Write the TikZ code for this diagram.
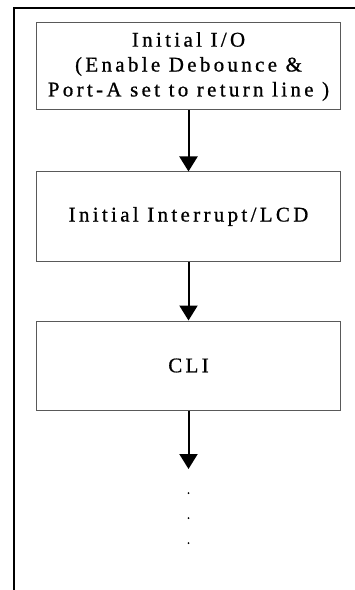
\documentclass[tikz,border=0pt]{standalone}
\usepackage{fontspec}
\setmainfont{Liberation Serif}[LetterSpace=16,FakeBold=0.8]
\usetikzlibrary{arrows.meta}
\begin{document}
\begin{tikzpicture}[x=1bp,y=-1bp,
  box/.style={draw=black!65,line width=1bp,minimum width=303bp,inner sep=0pt,align=center,font=\fontsize{21}{25}\selectfont},
  flow/.style={line width=2bp,-{Triangle[width=18bp,length=15bp]}},
  frame/.style={line width=2bp}]
\useasboundingbox (0,0) rectangle (354,590);
\coordinate (ftl) at (14,8);
\coordinate (fbl) at (14,591);
\coordinate (ftr) at (355,8);
\draw[frame] (fbl) -- (ftl) -- (ftr);
\node[box,minimum height=87bp] (b1) at (188.5,66.5) {Initial I/O\\(Enable Debounce \&\\Port-A set to return line )};
\node[box,minimum height=89bp] (b2) at (188.5,216.5) {Initial Interrupt/LCD};
\node[box,minimum height=89bp] (b3) at (188.5,365.5) {CLI};
\coordinate (end) at (188.5,469);
\draw[flow] (b1) -- (b2);
\draw[flow] (b2) -- (b3);
\draw[flow] (b3) -- (end);
\foreach \y/\n in {493/d1,518/d2,543/d3}{\node[circle,fill=black,inner sep=0pt,minimum size=2bp] (\n) at (188.5,\y) {};}
\end{tikzpicture}
\end{document}
